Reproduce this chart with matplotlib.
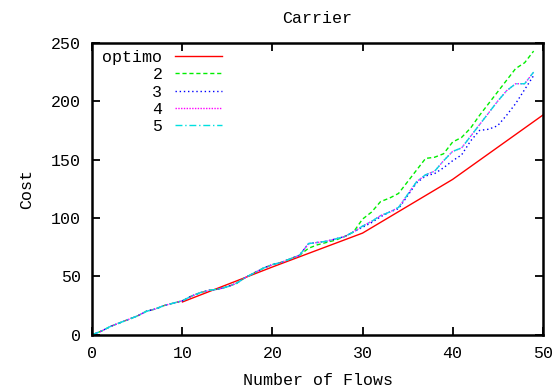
import matplotlib
matplotlib.use("Agg")
import matplotlib.pyplot as plt

flows = list(range(0, 50))
base = [0, 3, 7, 10, 13, 16, 20, 22, 25, 27, 29, 33, 36, 38, 39, 41, 44, 49, 53, 57,
        60, 62, 65, 68]
s2 = base + [74, 77, 79, 81, 84, 88, 99, 105, 114, 117, 121, 131, 141, 151, 152, 155,
             165, 169, 177, 188, 198, 208, 218, 228, 233, 243]
s3 = base + [78, 79, 80, 82, 84, 88, 92, 96, 101, 105, 108, 119, 130, 136, 138, 143,
             149, 154, 166, 175, 176, 179, 188, 198, 210, 222]
s4 = base + [78, 79, 80, 82, 84, 88, 93, 97, 102, 105, 109, 120, 131, 137, 140, 149,
             157, 160, 170, 180, 190, 200, 209, 215, 215, 225]
s5 = base + [78, 79, 80, 82, 84, 88, 93, 97, 102, 105, 109, 120, 131, 137, 140, 149,
             157, 160, 170, 180, 190, 200, 209, 215, 215, 225]
opt_x = [10, 20, 30, 40, 50]
opt_y = [28, 58, 87, 133, 188]

title = "Carrier"
xlabel = "Number of Flows"
ylabel = "Cost"

plt.rcParams['font.family'] = ['Liberation Mono', 'DejaVu Sans Mono']
fs = 12

fig = plt.figure(figsize=(5.6, 3.9), dpi=100)
ax = fig.add_axes([0.165, 0.142, 0.804, 0.748])

ax.plot(opt_x, opt_y, color='#ff0000', lw=1.0, ls='-', label='optimo')
ax.plot(flows, s2, color='#00ee00', lw=1.0, ls=(0, (3, 2)), label='2')
ax.plot(flows, s3, color='#0000ff', lw=1.0, ls=(0, (1, 2)), label='3')
ax.plot(flows, s4, color='#ff00ff', lw=1.0, ls=(0, (1, 1)), label='4')
ax.plot(flows, s5, color='#00e0e0', lw=1.0, ls=(0, (5, 2, 1, 2)), label='5')

ax.set_xlim(0, 50)
ax.set_ylim(0, 250)
ax.set_xticks(range(0, 51, 10))
ax.set_yticks(range(0, 251, 50))
ax.tick_params(direction='in', length=6, width=1.3, top=True, right=True,
               labelsize=fs, pad=8)
for sp in ax.spines.values():
    sp.set_linewidth(1.8)

ax.set_title(title, fontsize=fs, pad=14)
ax.set_xlabel(xlabel, fontsize=fs, labelpad=9)
ax.set_ylabel(ylabel, fontsize=fs, labelpad=12)

leg = ax.legend(loc='upper left', markerfirst=False, frameon=False, fontsize=fs,
                handlelength=2.8, handletextpad=0.75, labelspacing=0.14,
                borderaxespad=0.0, borderpad=0.25, bbox_to_anchor=(0.013, 0.99))
for col in leg._legend_handle_box.get_children():
    col.align = 'right'

fig.savefig('out.png', dpi=100)
